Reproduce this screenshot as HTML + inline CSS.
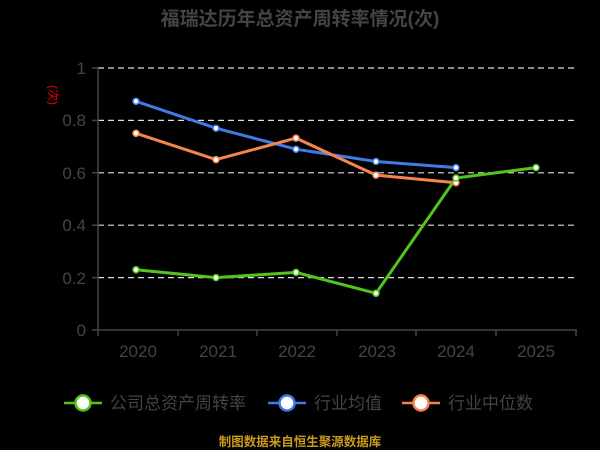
<!DOCTYPE html>
<html><head><meta charset="utf-8"><style>
html,body{margin:0;padding:0;background:#000;width:600px;height:450px;overflow:hidden}
svg text{font-family:"Liberation Sans","Noto Sans CJK SC",sans-serif}
</style></head><body>
<svg width="600" height="450" xmlns="http://www.w3.org/2000/svg">
<text x="300" y="25" text-anchor="middle" font-size="19" font-weight="bold" fill="#444">福瑞达历年总资产周转率情况(次)</text>
<text transform="translate(49,95) rotate(90)" text-anchor="middle" font-size="12" fill="#e00">(次)</text>
<g stroke="#ddd" stroke-dasharray="6,4" stroke-width="1.2">
<line x1="98" y1="68" x2="577" y2="68"/><line x1="98" y1="120.4" x2="577" y2="120.4"/>
<line x1="98" y1="172.8" x2="577" y2="172.8"/><line x1="98" y1="225.2" x2="577" y2="225.2"/>
<line x1="98" y1="277.6" x2="577" y2="277.6"/></g>
<g stroke="#444" stroke-width="1.5">
<line x1="98" y1="68" x2="98" y2="330"/><line x1="92" y1="330" x2="577" y2="330"/>
<line x1="92" y1="68" x2="98" y2="68"/><line x1="92" y1="120.4" x2="98" y2="120.4"/><line x1="92" y1="172.8" x2="98" y2="172.8"/><line x1="92" y1="225.2" x2="98" y2="225.2"/><line x1="92" y1="277.6" x2="98" y2="277.6"/>
<line x1="98" y1="330" x2="98" y2="336"/><line x1="178" y1="330" x2="178" y2="336"/><line x1="257" y1="330" x2="257" y2="336"/><line x1="337" y1="330" x2="337" y2="336"/><line x1="416" y1="330" x2="416" y2="336"/><line x1="496" y1="330" x2="496" y2="336"/><line x1="576" y1="330" x2="576" y2="336"/>
</g>
<g font-size="17" fill="#444" text-anchor="end">
<text x="86" y="74">1</text><text x="86" y="126">0.8</text><text x="86" y="179">0.6</text><text x="86" y="231">0.4</text><text x="86" y="284">0.2</text><text x="86" y="336">0</text></g>
<g font-size="17" fill="#444" text-anchor="middle">
<text x="138" y="357">2020</text><text x="218" y="357">2021</text><text x="297" y="357">2022</text><text x="377" y="357">2023</text><text x="456" y="357">2024</text><text x="536" y="357">2025</text></g>
<polyline fill="none" stroke="#3f7be6" stroke-width="3" points="136,101.3 216,128.2 296,149.2 376,161.5 456,167.6"/>
<polyline fill="none" stroke="#f5844f" stroke-width="3" points="136,133.3 216,159.6 296,138.1 376,175.1 456,182.7"/>
<polyline fill="none" stroke="#52c41a" stroke-width="3" points="136,269.7 216,277.6 296,272.4 376,293.3 456,178.0 536,167.6"/>
<g fill="#fff" stroke="#3f7be6" stroke-width="1.5"><circle cx="136" cy="101.3" r="3"/><circle cx="216" cy="128.2" r="3"/><circle cx="296" cy="149.2" r="3"/><circle cx="376" cy="161.5" r="3"/><circle cx="456" cy="167.6" r="3"/></g>
<g fill="#fff" stroke="#f5844f" stroke-width="1.5"><circle cx="136" cy="133.3" r="3"/><circle cx="216" cy="159.6" r="3"/><circle cx="296" cy="138.1" r="3"/><circle cx="376" cy="175.1" r="3"/><circle cx="456" cy="182.7" r="3"/></g>
<g fill="#fff" stroke="#52c41a" stroke-width="1.5"><circle cx="136" cy="269.7" r="3"/><circle cx="216" cy="277.6" r="3"/><circle cx="296" cy="272.4" r="3"/><circle cx="376" cy="293.3" r="3"/><circle cx="456" cy="178" r="3"/><circle cx="536" cy="167.6" r="3"/></g>
<g stroke-width="2.5">
<line x1="64" y1="403" x2="102" y2="403" stroke="#52c41a"/><circle cx="83" cy="403" r="7.5" fill="#fff" stroke="#52c41a"/>
<line x1="268" y1="403" x2="306" y2="403" stroke="#3f7be6"/><circle cx="287" cy="403" r="7.5" fill="#fff" stroke="#3f7be6"/>
<line x1="402" y1="403" x2="440" y2="403" stroke="#f5844f"/><circle cx="421" cy="403" r="7.5" fill="#fff" stroke="#f5844f"/>
</g>
<g font-size="17" fill="#444">
<text x="110" y="409">公司总资产周转率</text><text x="314" y="409">行业均值</text><text x="448" y="409">行业中位数</text></g>
<text x="300" y="446" text-anchor="middle" font-size="12.5" font-weight="bold" fill="#c99a1e">制图数据来自恒生聚源数据库</text>
</svg>
</body></html>
